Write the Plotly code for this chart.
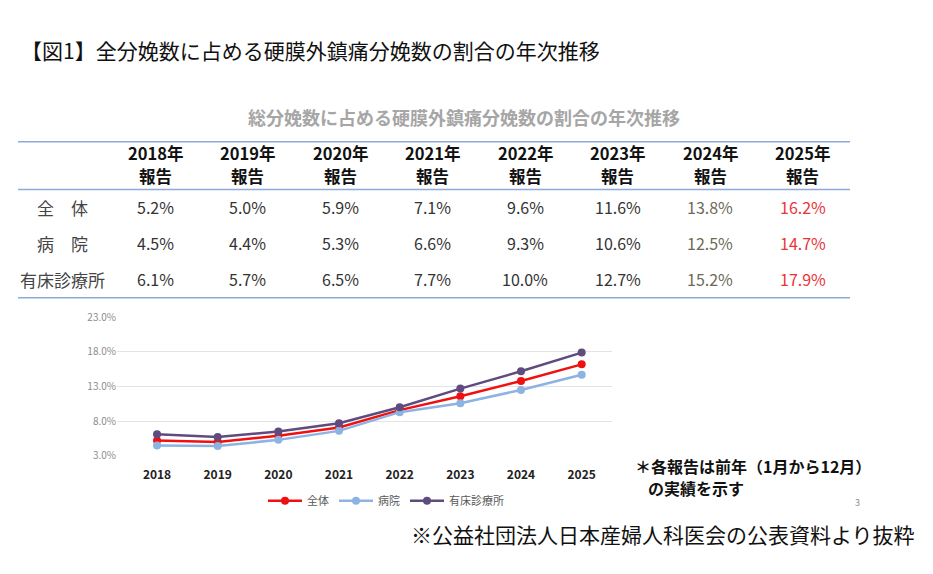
import plotly.graph_objects as go

W, H = 933, 574

# data
report_years = ["2018", "2019", "2020", "2021", "2022", "2023", "2024", "2025"]
row_labels = ["全　体", "病　院", "有床診療所"]
total = [5.2, 5.0, 5.9, 7.1, 9.6, 11.6, 13.8, 16.2]
hospital = [4.5, 4.4, 5.3, 6.6, 9.3, 10.6, 12.5, 14.7]
clinic = [6.1, 5.7, 6.5, 7.7, 10.0, 12.7, 15.2, 17.9]
series_names = ["全体", "病院", "有床診療所"]
series_colors = ["#f01010", "#8db3e2", "#5f4b7e"]

FONT = "Noto Sans CJK JP"


def px_x(p):
    return p / W


def px_y(p):
    return 1 - p / H


fig = go.Figure()


def text(s, x, y, size, color="#111111", anchor="center", bold=False):
    if bold:
        s = f"<b>{s}</b>"
    fig.add_annotation(text=s, xref="paper", yref="paper", x=px_x(x), y=px_y(y),
                       xanchor=anchor, yanchor="middle", showarrow=False,
                       font=dict(size=size, color=color, family=FONT))


# ---- table (rows of text + horizontal rules) ----
label_x = 62
col_x0, col_dx = 155, 92.5
row_y0, row_dy = 204, 37
col_colors = ["#333333"] * 6 + ["#6b6b58", "#e8353a"]

for i, yr in enumerate(report_years):
    cx = col_x0 + col_dx * i
    text(f"{yr}年", cx, 148.3, 16.5, bold=True)
    text("報告", cx, 172.3, 16.5, bold=True)

for r, (lab, vals) in enumerate(zip(row_labels, (total, hospital, clinic))):
    cy = row_y0 + row_dy * r
    text(lab, label_x, cy, 17, color="#444444")
    for i, v in enumerate(vals):
        text(f"{v:.1f}%", col_x0 + col_dx * i, cy, 16, color=col_colors[i])

for yy in (137, 186, 297):
    fig.add_shape(type="line", xref="paper", yref="paper",
                  x0=px_x(18), x1=px_x(850), y0=px_y(yy), y1=px_y(yy),
                  line=dict(color="#8eaadb", width=1.5))

# ---- line chart ----
for name, vals, color in zip(series_names, (total, hospital, clinic), series_colors):
    fig.add_trace(go.Scatter(
        x=report_years, y=vals, name=name, mode="lines+markers",
        line=dict(color=color, width=2.5),
        marker=dict(color=color, size=8),
    ))

fig.update_layout(
    width=W, height=H,
    margin=dict(l=0, r=0, t=0, b=0),
    paper_bgcolor="white", plot_bgcolor="white",
    font=dict(family=FONT),
    showlegend=True,
    legend=dict(orientation="h", x=px_x(386), xanchor="center", y=px_y(505), yanchor="middle",
                font=dict(size=11, color="#595959"), itemwidth=34),
    xaxis=dict(
        domain=[px_x(117), px_x(612)], type="category",
        range=[-0.66, 7.5], showgrid=False, showline=False, ticks="",
        ticklabelstandoff=10,
        tickfont=dict(size=12, color="#222222", family=FONT),
        tickprefix="<b>", ticksuffix="</b>",
    ),
    yaxis=dict(
        domain=[px_y(459), px_y(317)], range=[3, 23], dtick=5, tick0=3,
        tickformat=".1f", ticksuffix="%", showline=False, zeroline=False,
        gridcolor="#e3e3e3", gridwidth=1, ticks="",
        tickfont=dict(size=10, color="#8c8c8c"),
    ),
)

# ---- titles and notes ----
text("【図1】全分娩数に占める硬膜外鎮痛分娩数の割合の年次推移", 19, 43, 21, anchor="left")
text("総分娩数に占める硬膜外鎮痛分娩数の割合の年次推移", 464, 112, 18,
     color="#a6a6a6", bold=True)
text("＊各報告は前年（1月から12月）", 633, 469, 16, anchor="left", bold=True)
text("の実績を示す", 646, 492.5, 16, anchor="left", bold=True)
text("3", 857, 507, 9, color="#8c8c8c")
text("※公益社団法人日本産婦人科医会の公表資料より抜粋", 917, 539, 21, anchor="right")

fig.write_html("out.html", config={"displayModeBar": False},
               post_script="document.body.style.margin='0';")
